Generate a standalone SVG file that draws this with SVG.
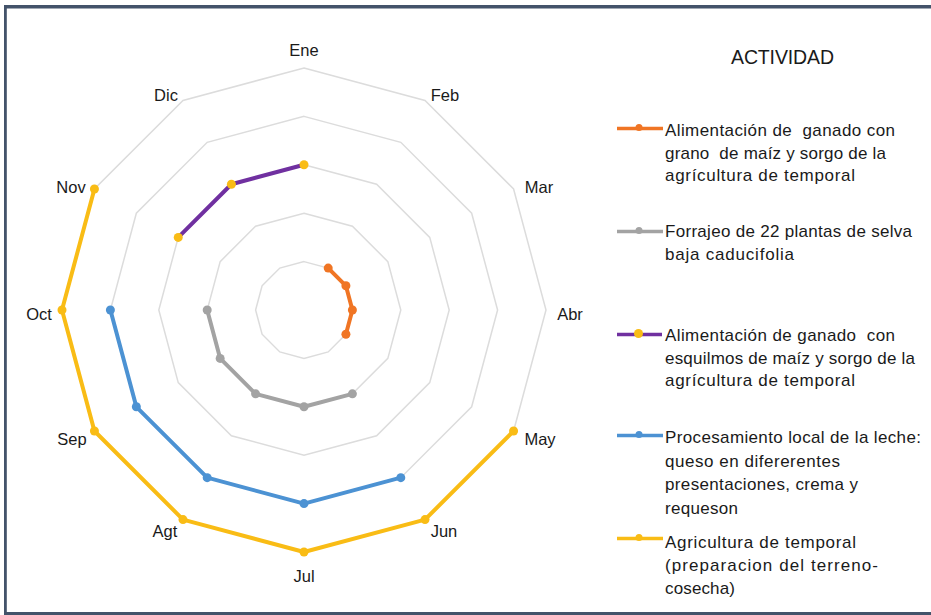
<svg xmlns="http://www.w3.org/2000/svg" width="931" height="615" viewBox="0 0 931 615">
<style>
  .ring { fill: none; stroke: #dcdcdc; stroke-width: 1.5; }
  .ser { fill: none; stroke-width: 4; stroke-linejoin: round; stroke-linecap: round; }
  .lab { font-family: "Liberation Sans", Arial, sans-serif; font-size: 16.5px; fill: #1a1a1a; text-anchor: middle; }
  .leg { font-family: "Liberation Sans", Arial, sans-serif; font-size: 17px; fill: #1a1a1a; white-space: pre; }
  .ttl { font-family: "Liberation Sans", Arial, sans-serif; font-size: 19.5px; fill: #1a1a1a; }
  .orange { stroke: #F07524; } .fo { fill: #F07524; }
  .gray { stroke: #A3A3A3; } .fg { fill: #A3A3A3; }
  .purple { stroke: #7030A0; } .fy { fill: #F9BC15; }
  .blue { stroke: #4C92D3; } .fb { fill: #4C92D3; }
  .yellow { stroke: #F9BC15; }
  .legline { stroke-width: 3.5; }
</style>
<rect x="0" y="0" width="931" height="615" fill="#ffffff"/>
<g id="border" fill="#43536a">
  <rect x="4" y="5" width="927" height="3.5"/>
  <rect x="4" y="5" width="2.8" height="610"/>
  <rect x="4" y="612" width="927" height="3"/>
</g>
<g id="grid">
  <polygon class="ring" points="304,68 425,100.42 513.58,189 546,310 513.58,431 425,519.58 304,552 183,519.58 94.42,431 62,310 94.42,189 183,100.42"/>
  <polygon class="ring" points="304,116.4 400.8,142.34 471.66,213.2 497.6,310 471.66,406.8 400.8,477.66 304,503.6 207.2,477.66 136.34,406.8 110.4,310 136.34,213.2 207.2,142.34"/>
  <polygon class="ring" points="304,164.8 376.6,184.25 429.75,237.4 449.2,310 429.75,382.6 376.6,435.75 304,455.2 231.4,435.75 178.25,382.6 158.8,310 178.25,237.4 231.4,184.25"/>
  <polygon class="ring" points="304,213.2 352.4,226.17 387.83,261.6 400.8,310 387.83,358.4 352.4,393.83 304,406.8 255.6,393.83 220.17,358.4 207.2,310 220.17,261.6 255.6,226.17"/>
  <polygon class="ring" points="304,261.6 328.2,268.08 345.92,285.8 352.4,310 345.92,334.2 328.2,351.92 304,358.4 279.8,351.92 262.08,334.2 255.6,310 262.08,285.8 279.8,268.08"/>
</g>
<g id="month-labels">
  <text class="lab" x="304" y="56">Ene</text>
  <text class="lab" x="445" y="101">Feb</text>
  <text class="lab" x="539" y="193">Mar</text>
  <text class="lab" x="570" y="320">Abr</text>
  <text class="lab" x="540" y="445">May</text>
  <text class="lab" x="444" y="537">Jun</text>
  <text class="lab" x="304" y="582">Jul</text>
  <text class="lab" x="165" y="537">Agt</text>
  <text class="lab" x="72" y="445">Sep</text>
  <text class="lab" x="39" y="320">Oct</text>
  <text class="lab" x="71" y="193">Nov</text>
  <text class="lab" x="166" y="101">Dic</text>
</g>
<g id="series-grano">
  <polyline class="ser orange" points="328.2,268.08 345.92,285.8 352.4,310 345.92,334.2"/>
  <g class="fo">
    <circle cx="328.2" cy="268.08" r="4.5"/><circle cx="345.92" cy="285.8" r="4.5"/><circle cx="352.4" cy="310" r="4.5"/><circle cx="345.92" cy="334.2" r="4.5"/>
  </g>
</g>
<g id="series-forrajeo">
  <polyline class="ser gray" points="352.4,393.83 304,406.8 255.6,393.83 220.17,358.4 207.2,310"/>
  <g class="fg">
    <circle cx="352.4" cy="393.83" r="4.5"/><circle cx="304" cy="406.8" r="4.5"/><circle cx="255.6" cy="393.83" r="4.5"/><circle cx="220.17" cy="358.4" r="4.5"/><circle cx="207.2" cy="310" r="4.5"/>
  </g>
</g>
<g id="series-esquilmos">
  <polyline class="ser purple" points="178.25,237.4 231.4,184.25 304,164.8"/>
  <g class="fy">
    <circle cx="178.25" cy="237.4" r="4.5"/><circle cx="231.4" cy="184.25" r="4.5"/><circle cx="304" cy="164.8" r="4.5"/>
  </g>
</g>
<g id="series-leche">
  <polyline class="ser blue" points="400.8,477.66 304,503.6 207.2,477.66 136.34,406.8 110.4,310"/>
  <g class="fb">
    <circle cx="400.8" cy="477.66" r="4.5"/><circle cx="304" cy="503.6" r="4.5"/><circle cx="207.2" cy="477.66" r="4.5"/><circle cx="136.34" cy="406.8" r="4.5"/><circle cx="110.4" cy="310" r="4.5"/>
  </g>
</g>
<g id="series-agricultura">
  <polyline class="ser yellow" points="513.58,431 425,519.58 304,552 183,519.58 94.42,431 62,310 94.42,189"/>
  <g class="fy">
    <circle cx="513.58" cy="431" r="4.5"/><circle cx="425" cy="519.58" r="4.5"/><circle cx="304" cy="552" r="4.5"/><circle cx="183" cy="519.58" r="4.5"/><circle cx="94.42" cy="431" r="4.5"/><circle cx="62" cy="310" r="4.5"/><circle cx="94.42" cy="189" r="4.5"/>
  </g>
</g>
<g id="legend">
  <text class="ttl" x="731" y="64" textLength="103">ACTIVIDAD</text>
  <g id="legend-grano">
    <line class="legline orange" x1="617" y1="128.5" x2="663" y2="128.5"/>
    <circle class="fo" cx="639" cy="127.5" r="3.5"/>
    <text class="leg" x="665" y="136" textLength="230">Alimentación de  ganado con</text>
    <text class="leg" x="665" y="158.5" textLength="221">grano  de maíz y sorgo de la</text>
    <text class="leg" x="665" y="181" textLength="190">agrícultura de temporal</text>
  </g>
  <g id="legend-forrajeo">
    <line class="legline gray" x1="617" y1="231.5" x2="663" y2="231.5"/>
    <circle class="fg" cx="639" cy="230.5" r="3.5"/>
    <text class="leg" x="665" y="237" textLength="247">Forrajeo de 22 plantas de selva</text>
    <text class="leg" x="665" y="260" textLength="129">baja caducifolia</text>
  </g>
  <g id="legend-esquilmos">
    <line class="legline purple" x1="617" y1="334.5" x2="662" y2="334.5"/>
    <circle class="fy" cx="638.5" cy="333.5" r="4.5"/>
    <text class="leg" x="665" y="341" textLength="230">Alimentación de ganado  con</text>
    <text class="leg" x="665" y="363.5" textLength="250">esquilmos de maíz y sorgo de la</text>
    <text class="leg" x="665" y="386" textLength="190">agrícultura de temporal</text>
  </g>
  <g id="legend-leche">
    <line class="legline blue" x1="617" y1="435.5" x2="663" y2="435.5"/>
    <circle class="fb" cx="639" cy="434.5" r="3.5"/>
    <text class="leg" x="665" y="443" textLength="256">Procesamiento local de la leche:</text>
    <text class="leg" x="665" y="466.5" textLength="175">queso en difererentes</text>
    <text class="leg" x="665" y="490" textLength="193">presentaciones, crema y</text>
    <text class="leg" x="665" y="513.5" textLength="73">requeson</text>
  </g>
  <g id="legend-agricultura">
    <line class="legline yellow" x1="617" y1="538.5" x2="663" y2="538.5"/>
    <circle class="fy" cx="639" cy="537.5" r="3.5"/>
    <text class="leg" x="665" y="548" textLength="191">Agricultura de temporal</text>
    <text class="leg" x="665" y="571" textLength="213">(preparacion del terreno-</text>
    <text class="leg" x="665" y="594" textLength="70">cosecha)</text>
  </g>
</g>
</svg>
